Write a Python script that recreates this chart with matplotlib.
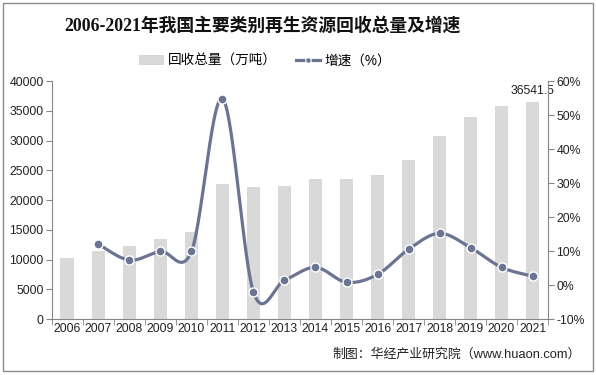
import numpy as np
import matplotlib
matplotlib.use('Agg')
import matplotlib.pyplot as plt
from matplotlib.lines import Line2D
from matplotlib.patches import Patch, Rectangle

plt.rcParams['font.family'] = ['Liberation Sans', 'Noto Sans CJK SC']

# data
years = ['2006', '2007', '2008', '2009', '2010', '2011', '2012', '2013',
         '2014', '2015', '2016', '2017', '2018', '2019', '2020', '2021']
volume = [10250, 11430, 12270, 13440, 14620, 22690, 22190, 22350,
          23530, 23530, 24200, 26720, 30760, 33950, 35800, 36541.5]
growth_years = years[1:]
growth = [12.0, 7.3, 9.9, 9.9, 54.8, -2.1, 1.4,
          5.2, 0.8, 3.1, 10.5, 15.2, 11.0, 5.2, 2.6]

bar_color = '#d9d9d9'
line_color = '#6b7492'
axis_color = '#868686'


def smooth(x, y, n=30):
    # excel-style smoothed line: bezier segments with 1/6 neighbour tangents
    x = np.asarray(x, float)
    y = np.asarray(y, float)
    px = np.concatenate([[x[0]], x, [x[-1]]])
    py = np.concatenate([[y[0]], y, [y[-1]]])
    xs, ys = [], []
    t = np.linspace(0, 1, n)
    for i in range(len(x) - 1):
        p0 = np.array([px[i + 1], py[i + 1]])
        p3 = np.array([px[i + 2], py[i + 2]])
        p1 = p0 + (p3 - np.array([px[i], py[i]])) / 6
        p2 = p3 - (np.array([px[i + 3], py[i + 3]]) - p0) / 6
        pts = ((1 - t) ** 3)[:, None] * p0 + (3 * (1 - t) ** 2 * t)[:, None] * p1 \
            + (3 * (1 - t) * t ** 2)[:, None] * p2 + (t ** 3)[:, None] * p3
        xs.extend(pts[:, 0])
        ys.extend(pts[:, 1])
    return np.array(xs), np.array(ys)


fig = plt.figure(figsize=(5.96, 3.75), dpi=100)
ax = fig.add_axes([0.0872, 0.1493, 0.8323, 0.6347])

x = np.arange(len(years))
ax.bar(x, volume, width=0.45, color=bar_color, zorder=1)
ax.set_xlim(-0.5, len(years) - 0.5)
ax.set_ylim(0, 40000)
ax.set_yticks(np.arange(0, 40001, 5000))
ax.set_xticks(x)
ax.set_xticklabels(years)
ax.set_xticks(np.arange(-0.5, len(years), 1), minor=True)
ax.tick_params(axis='x', which='major', length=0, pad=3, labelsize=8.8, colors='#222222')
ax.tick_params(axis='x', which='minor', length=4, color=axis_color, direction='out')
ax.tick_params(axis='y', length=4, color=axis_color, labelsize=8.8, labelcolor='#222222', pad=2)
ax.text(x[-1], volume[-1] + 800, '36541.5', ha='center', va='bottom', fontsize=8.8, color='#222222')

for s in ['top', 'right']:
    ax.spines[s].set_visible(False)
for s in ['left', 'bottom']:
    ax.spines[s].set_color(axis_color)

ax2 = ax.twinx()
ax2.set_ylim(-10, 60)
ax2.set_yticks(np.arange(-10, 61, 10))
ax2.set_yticklabels(['{}%'.format(v) for v in range(-10, 61, 10)])
ax2.tick_params(axis='y', length=4, color=axis_color, labelsize=8.8, labelcolor='#222222', pad=2)
for s in ['top', 'left', 'bottom']:
    ax2.spines[s].set_visible(False)
ax2.spines['right'].set_color(axis_color)

gx = x[1:]
sx, sy = smooth(gx, growth)
ax2.plot(sx, sy, color=line_color, lw=2.3, zorder=3, solid_capstyle='round')
ax2.plot(gx, growth, 'o', color=line_color, ms=6.5, mec='white', mew=1.0, zorder=4)

fig.text(0.44, 0.932, '2006-2021年我国主要类别再生资源回收总量及增速', ha='center', va='center',
         fontsize=12.8, fontweight='bold', family=['Liberation Serif', 'Noto Sans CJK SC'], color='#111111')

handles = [Patch(facecolor=bar_color, edgecolor='none'),
           Line2D([], [], color=line_color, lw=2.3, marker='o', ms=4, mec='white', mew=0.8)]
fig.legend(handles, ['回收总量（万吨）', '增速（%）'], loc='center', bbox_to_anchor=(0.445, 0.838),
           ncol=2, frameon=False, fontsize=9.8, handlelength=1.8, columnspacing=1.4, handletextpad=0.3)

fig.text(0.975, 0.055, '制图：华经产业研究院（www.huaon.com）', ha='right', va='center',
         fontsize=9.3, color='#222222')

fig.patches.append(Rectangle((0.005, 0.011), 0.99, 0.982, transform=fig.transFigure,
                             fill=False, edgecolor='#8c8c8c', lw=1.0))

fig.savefig('out.png', dpi=100)
